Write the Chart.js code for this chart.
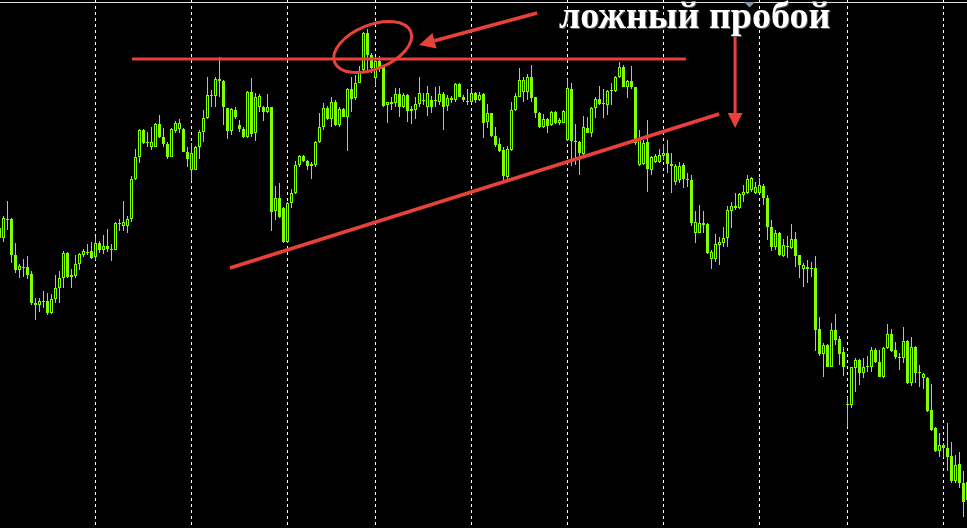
<!DOCTYPE html>
<html>
<head>
<meta charset="utf-8">
<script src="https://cdn.jsdelivr.net/npm/chart.js@4.4.0/dist/chart.umd.min.js"></script>
<style>
    html, body { margin: 0; padding: 0; background: #000; overflow: hidden; }
    #chart { display: block; }
</style>
</head>
<body>
<canvas id="chart" width="967" height="528"></canvas>
<script>
// hourly candles, prices in chart units (no price axis in the screenshot)
const open = [292,282,301,301,265,250,253,253,246,217,215,219,219,207,221,232,242,267,243,244,
    256,265,268,269,263,277,270,274,271,270,297,294,294,301,341,363,390,378,373,373,
    396,383,376,363,389,391,391,368,350,350,373,388,402,424,424,441,439,412,389,410,
    395,391,383,428,387,413,413,408,413,309,322,312,278,317,327,355,364,359,356,355,
    378,393,412,401,418,395,411,403,431,422,437,450,487,465,442,459,453,415,416,417,
    426,413,425,411,410,416,420,413,420,419,418,426,414,422,420,436,423,419,418,427,
    420,426,398,407,384,376,370,343,370,410,423,428,428,443,423,407,393,401,395,408,
    397,397,380,431,379,378,366,392,387,412,421,417,415,429,429,443,453,433,439,433,
    355,356,378,350,358,358,364,367,356,338,340,355,341,340,287,287,297,296,261,261,
    275,277,282,309,314,312,325,327,330,327,327,334,322,293,273,287,264,274,272,281,
    265,251,253,252,252,191,166,175,153,190,181,168,116,115,152,160,147,153,153,170,
    158,143,172,186,170,163,162,179,137,173,148,142,142,110,92,69,75,72,64,39,
    56,37,20];
const high = [298,304,319,302,277,256,261,264,249,222,222,229,227,226,245,249,269,268,251,265,
    267,271,276,278,283,279,285,291,276,298,301,319,304,344,371,391,391,388,393,397,
    405,392,378,392,399,401,392,373,377,374,390,410,443,430,443,463,440,412,412,413,
    400,393,429,442,427,426,414,426,413,334,337,313,318,331,359,365,365,360,358,379,
    407,417,414,423,420,413,412,432,443,445,454,488,491,467,463,464,455,418,423,432,
    432,427,426,414,423,443,427,434,424,433,434,428,425,424,437,437,425,431,432,428,
    428,427,416,407,393,382,373,374,418,427,452,443,446,455,423,408,406,402,409,409,
    402,410,441,437,396,379,404,403,413,423,434,431,430,437,444,458,455,440,454,433,
    390,380,400,364,366,371,376,380,367,356,358,357,347,345,309,315,309,297,270,286,
    283,293,314,318,327,327,335,345,343,338,342,336,325,300,290,288,281,284,296,288,
    265,257,260,258,264,203,177,176,197,206,184,173,123,153,162,161,162,164,173,172,
    170,173,196,191,178,167,193,180,183,174,155,147,143,136,93,87,77,97,78,65,
    68,49,50];
const low = [280,278,290,257,247,242,243,241,215,200,208,212,205,206,217,217,232,242,232,242,
    250,263,265,261,260,267,266,268,259,270,289,289,287,298,340,357,376,373,370,373,
    382,373,361,363,387,387,368,353,339,350,361,378,401,413,413,423,395,381,385,401,
    388,382,382,383,379,408,399,407,289,300,302,277,277,312,326,353,358,350,341,353,
    377,390,400,393,394,393,403,369,408,420,437,447,450,447,434,448,413,397,410,413,
    403,412,398,396,401,413,415,404,407,413,415,390,409,417,418,423,418,415,417,417,
    419,382,392,383,373,368,339,341,369,409,423,418,420,418,402,392,392,387,394,396,
    395,397,379,354,355,345,365,387,383,402,415,402,405,415,428,442,433,422,431,375,
    354,355,328,345,357,357,360,347,327,335,337,332,333,294,277,287,287,266,251,258,
    255,273,273,292,310,311,318,326,328,326,327,315,280,269,270,264,263,262,271,253,
    242,233,237,243,169,164,143,153,153,175,155,144,93,112,128,135,142,148,148,157,
    143,142,171,168,161,150,157,136,134,137,133,131,108,89,68,63,63,49,37,37,
    32,3,15];
const close = [282,302,301,265,250,254,253,245,217,215,219,219,207,221,232,242,267,243,245,256,
    266,269,267,262,277,270,274,271,270,297,296,298,301,341,363,390,377,378,378,396,
    383,376,363,391,397,397,368,361,367,373,388,402,425,425,441,439,413,389,411,403,
    391,383,428,386,423,424,408,413,308,322,303,278,317,327,355,364,359,354,354,378,
    393,412,401,418,395,411,403,431,421,437,448,487,465,452,459,453,414,418,418,426,
    413,425,409,409,416,427,419,427,413,420,426,413,422,420,436,423,420,418,427,420,
    425,397,407,384,375,369,344,371,410,424,440,440,443,422,407,393,401,394,408,397,
    400,409,432,379,378,367,393,387,412,421,416,416,429,430,443,453,433,439,433,377,
    380,377,351,363,364,365,367,356,354,354,354,341,340,297,298,297,295,267,268,276,
    278,282,310,314,312,326,328,341,342,333,335,322,293,273,287,265,275,273,281,264,
    255,255,251,252,190,166,175,153,190,180,166,153,115,153,160,147,153,154,170,158,
    143,172,186,169,163,162,179,137,173,147,147,146,109,90,69,75,72,63,39,55,
    37,18,38];

// candles where a new trading day starts (dashed grid)
const dayStarts = [24, 48, 72, 94, 118, 142, 166, 190, 212, 236];

// hand-drawn analysis lines, in candle index / price units
const resistance = [{x: 33.1, y: 461}, {x: 171.6, y: 461}];
const support = [{x: 57.6, y: 252}, {x: 179.9, y: 406}];
const breakMark = {x: 93.3, y: 473};
const breakArrow = {from: {x: 134.4, y: 507}, to: {x: 104.9, y: 475}};
const downArrow = {from: {x: 183.9, y: 483}, to: {x: 183.9, y: 392}};
const caption = 'ложный пробой';

const LIME = '#7fff00';
const RED = '#e8413a';

const wicks = low.map((l, i) => ({x: i, y: [l, high[i]]}));
const bodies = open.map((o, i) => ({x: i, y: [o, close[i]]}));
const bodyFill = open.map((o, i) => close[i] > o ? '#000' : LIME);

function arrow(ctx, x1, y1, x2, y2, headLen, headHalf, width) {
    const ang = Math.atan2(y2 - y1, x2 - x1);
    const bx = x2 - headLen * Math.cos(ang), by = y2 - headLen * Math.sin(ang);
    ctx.lineWidth = width;
    ctx.beginPath();
    ctx.moveTo(x1, y1);
    ctx.lineTo(bx, by);
    ctx.stroke();
    ctx.beginPath();
    ctx.moveTo(x2, y2);
    ctx.lineTo(bx + headHalf * Math.sin(ang), by - headHalf * Math.cos(ang));
    ctx.lineTo(bx - headHalf * Math.sin(ang), by + headHalf * Math.cos(ang));
    ctx.closePath();
    ctx.fill();
}

const decorations = {
    id: 'decorations',
    afterDatasetsDraw(chart) {
        const {ctx, scales: {x, y}, width} = chart;
        ctx.save();
        // window frame line + shift marker
        ctx.fillStyle = '#e0e0e0';
        ctx.fillRect(0, 2, width, 1);
        ctx.fillStyle = '#8796a6';
        ctx.beginPath();
        ctx.moveTo(744, 2); ctx.lineTo(755, 2); ctx.lineTo(749.5, 7.5);
        ctx.fill();

        ctx.strokeStyle = RED;
        ctx.fillStyle = RED;
        ctx.lineWidth = 3;
        ctx.beginPath();
        ctx.ellipse(x.getPixelForValue(breakMark.x), y.getPixelForValue(breakMark.y), 41, 22, -22 * Math.PI / 180, 0, Math.PI * 2);
        ctx.stroke();

        arrow(ctx, x.getPixelForValue(breakArrow.from.x), y.getPixelForValue(breakArrow.from.y),
            x.getPixelForValue(breakArrow.to.x), y.getPixelForValue(breakArrow.to.y), 16, 8, 3.5);
        arrow(ctx, x.getPixelForValue(downArrow.from.x), y.getPixelForValue(downArrow.from.y),
            x.getPixelForValue(downArrow.to.x), y.getPixelForValue(downArrow.to.y), 15, 7.5, 3);

        ctx.font = 'bold 38px "Liberation Serif", "DejaVu Serif", serif';
        ctx.fillStyle = '#fff';
        ctx.textBaseline = 'alphabetic';
        ctx.shadowColor = 'rgba(120,120,120,0.7)';
        ctx.shadowOffsetX = 1;
        ctx.shadowOffsetY = 1;
        ctx.fillText(caption, 559, 28);
        ctx.restore();
    }
};

new Chart(document.getElementById('chart'), {
    type: 'bar',
    data: {
        datasets: [
            {
                label: 'wick',
                data: wicks,
                backgroundColor: LIME,
                borderWidth: 0,
                barThickness: 1,
                grouped: false,
                inflateAmount: 0,
                order: 3
            },
            {
                label: 'body',
                data: bodies,
                backgroundColor: bodyFill,
                borderColor: LIME,
                borderWidth: 1,
                borderSkipped: false,
                barThickness: 3,
                minBarLength: 1,
                grouped: false,
                inflateAmount: 0,
                order: 2
            },
            {
                type: 'line',
                label: 'resistance',
                data: resistance,
                borderColor: RED,
                borderWidth: 3,
                pointRadius: 0,
                order: 1
            },
            {
                type: 'line',
                label: 'support',
                data: support,
                borderColor: RED,
                borderWidth: 3.5,
                pointRadius: 0,
                order: 1
            }
        ]
    },
    options: {
        responsive: false,
        animation: false,
        events: [],
        layout: {padding: 0},
        plugins: {legend: {display: false}, tooltip: {enabled: false}},
        scales: {
            x: {
                type: 'linear',
                min: 0.125,
                max: 241.875,
                offset: false,
                afterBuildTicks: axis => { axis.ticks = dayStarts.map(v => ({value: v})); },
                ticks: {display: false},
                grid: {color: '#ffffff', lineWidth: 1, drawTicks: false, offset: false},
                border: {display: false, dash: [3, 3]}
            },
            y: {
                display: false,
                min: -8,
                max: 520
            }
        }
    },
    plugins: [decorations]
});
</script>
</body>
</html>
